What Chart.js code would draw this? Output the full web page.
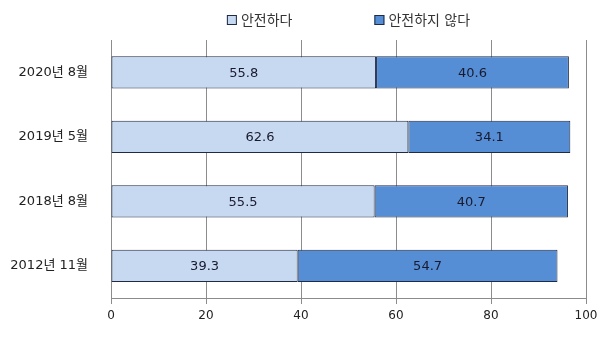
<!DOCTYPE html>
<html>
<head>
<meta charset="utf-8">
<script src="https://cdn.jsdelivr.net/npm/chart.js@4"></script>
<style>
  html, body { margin: 0; padding: 0; background: #ffffff; }
  #wrap { width: 614px; height: 337px; }
</style>
</head>
<body>
<div id="wrap"><canvas id="chart" width="614" height="337"></canvas></div>
<script>
const categories = ["2020년 8월", "2019년 5월", "2018년 8월", "2012년 11월"];
const safe = [55.8, 62.6, 55.5, 39.3];
const unsafe = [40.6, 34.1, 40.7, 54.7];
const seriesNames = ["안전하다", "안전하지 않다"];
const xTicks = [0, 20, 40, 60, 80, 100];

const fontFamily = "'DejaVu Sans', 'Noto Sans CJK KR', sans-serif";

// writes the value in the middle of each bar piece
const barLabels = {
    id: "barLabels",
    afterDatasetsDraw(chart) {
        const c = chart.ctx;
        c.save();
        c.font = "13px " + fontFamily;
        c.fillStyle = "#1a1a2e";
        c.textAlign = "center";
        c.textBaseline = "middle";
        chart.data.datasets.forEach((ds, i) => {
            chart.getDatasetMeta(i).data.forEach((bar, j) => {
                const mid = (bar.x + bar.base) / 2;
                c.fillText(ds.data[j].toFixed(1), mid, bar.y + 1);
            });
        });
        c.restore();
    }
};

// legend with a wide gap between the two items, centred over the plot
const wideLegend = {
    id: "wideLegend",
    afterDraw(chart) {
        const c = chart.ctx;
        const area = chart.chartArea;
        const box = 10, gap = 4, between = 82;
        c.save();
        c.font = "14px " + fontFamily;
        c.textBaseline = "middle";
        const items = chart.data.datasets.map(ds => ({
            text: ds.label,
            fill: ds.backgroundColor,
            w: box + gap + c.measureText(ds.label).width
        }));
        const total = items.reduce((s, it) => s + it.w, 0) + between * (items.length - 1);
        let x = (area.left + area.right) / 2 - total / 2;
        const y = 20;
        items.forEach(it => {
            c.fillStyle = it.fill;
            c.fillRect(x, y - box / 2, box, box);
            c.strokeStyle = "#1f2a44";
            c.lineWidth = 1;
            c.strokeRect(x + 0.5, y - box / 2 + 0.5, box - 1, box - 1);
            c.fillStyle = "#333";
            c.fillText(it.text, x + box + gap, y + 1);
            x += it.w + between;
        });
        c.restore();
    }
};

const ctx = document.getElementById("chart").getContext("2d");

const chart = new Chart(ctx, {
    type: "bar",
    data: {
        labels: categories,
        datasets: [
            {
                label: seriesNames[0],
                data: safe,
                backgroundColor: "#c6d9f1",
                borderColor: "#1f2a44",
                borderWidth: 1,
                borderSkipped: false,
                barPercentage: 0.5,
                categoryPercentage: 1
            },
            {
                label: seriesNames[1],
                data: unsafe,
                backgroundColor: "#558ed5",
                borderColor: "#1f2a44",
                borderWidth: 1,
                borderSkipped: false,
                barPercentage: 0.5,
                categoryPercentage: 1
            }
        ]
    },
    options: {
        indexAxis: "y",
        responsive: false,
        animation: false,
        layout: {
            padding: { top: 40, right: 28, left: 0, bottom: 0 }
        },
        scales: {
            x: {
                stacked: true,
                min: 0,
                max: 100,
                afterBuildTicks(scale) {
                    scale.ticks = xTicks.map(v => ({ value: v }));
                },
                afterFit(scale) {
                    scale.height = 39;
                },
                grid: {
                    color: "#8c8c8c",
                    lineWidth: 1,
                    drawTicks: true,
                    tickLength: 6,
                    tickColor: "#8c8c8c"
                },
                border: { display: true, color: "#8c8c8c" },
                ticks: {
                    color: "#222",
                    font: { family: fontFamily, size: 12 },
                    padding: 5,
                    maxRotation: 0
                }
            },
            y: {
                stacked: true,
                afterFit(scale) {
                    scale.width = 111;
                },
                grid: { display: false },
                border: { display: true, color: "#8c8c8c" },
                ticks: {
                    color: "#222",
                    font: { family: fontFamily, size: 13 },
                    padding: 15
                }
            }
        },
        plugins: {
            legend: { display: false },
            tooltip: { enabled: false }
        }
    },
    plugins: [barLabels, wideLegend]
});
</script>
</body>
</html>
